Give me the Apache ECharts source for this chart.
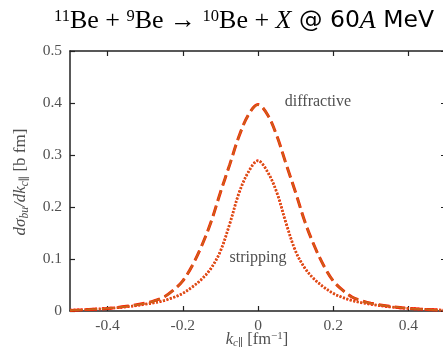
<!DOCTYPE html>
<html><head><meta charset="utf-8">
<script src="https://cdn.jsdelivr.net/npm/echarts@6/dist/echarts.min.js"></script>
<style>html,body{margin:0;padding:0;background:#fff}#c{width:443px;height:352px}</style>
</head><body><div id="c"></div>
<script>
const kValues = [-0.5,-0.45,-0.4,-0.35,-0.3,-0.275,-0.25,-0.225,-0.2,-0.175,-0.15,-0.125,-0.1,-0.075,-0.05,-0.025,0,
                 0.025,0.05,0.075,0.1,0.125,0.15,0.175,0.2,0.225,0.25,0.275,0.3,0.35,0.4,0.45,0.5];
const diffractive = [0.001,0.003,0.005,0.009,0.015,0.020,0.027,0.040,0.058,0.087,0.125,0.171,0.228,0.282,0.337,0.378,0.397,
                     0.378,0.337,0.282,0.228,0.171,0.125,0.087,0.058,0.040,0.027,0.020,0.015,0.009,0.005,0.003,0.001];
const stripping = [0.0015,0.003,0.005,0.008,0.013,0.016,0.020,0.026,0.034,0.046,0.061,0.082,0.115,0.168,0.228,0.268,0.289,
                   0.268,0.228,0.168,0.115,0.082,0.061,0.046,0.034,0.026,0.020,0.016,0.013,0.008,0.005,0.003,0.0015];
const xTickValues = [-0.4,-0.2,0,0.2,0.4];
const xTickLabels = ['-0.4','-0.2','0','0.2','0.4'];
const yTickLabels = ['0','0.1','0.2','0.3','0.4','0.5'];

const pairs = arr => kValues.map((k,i)=>[k,arr[i]]);
const serif = '"Liberation Serif", "DejaVu Serif", serif';
const sans = '"DejaVu Sans", "Noto Sans", sans-serif';
const RED = '#ff1a00', ORANGE = '#c8641a', GRAY = '#505050';

function curve(name, data, type, color, width, z){
  return {name, type:'line', data:pairs(data), showSymbol:false, smooth:0.35, z,
    lineStyle:{color, width, type}, silent:true};
}
const chart = echarts.init(document.getElementById('c'), null, {renderer:'canvas'});
const axisLine = {show:true, onZero:false, lineStyle:{color:'#222', width:1.5}};
const tick = {show:true, inside:true, length:5, lineStyle:{color:'#222', width:1.2}};
chart.setOption({
  animation:false,
  backgroundColor:'#fff',
  grid:{left:70, top:51, width:376, bottom:41, containLabel:false, outerBoundsMode:'none'},
  xAxis:[
    {type:'value', min:-0.5, max:0.5, position:'bottom', axisLine,
     axisTick:Object.assign({}, tick, {customValues:xTickValues}),
     axisLabel:{customValues:xTickValues, formatter:v=>xTickLabels[xTickValues.findIndex(t=>Math.abs(t-v)<1e-9)] ?? '',
       fontFamily:serif, fontSize:15.5, color:GRAY, margin:7},
     splitLine:{show:false}},
    {type:'value', min:-0.5, max:0.5, position:'top', axisLine,
     axisTick:Object.assign({}, tick, {customValues:xTickValues}),
     axisLabel:{show:false}, splitLine:{show:false}}
  ],
  yAxis:[
    {type:'value', min:0, max:0.5, interval:0.1, position:'left', axisLine, axisTick:tick,
     axisLabel:{formatter:v=>yTickLabels[Math.round(v*10)], fontFamily:serif, fontSize:15.5, color:GRAY, margin:8},
     splitLine:{show:false}},
    {type:'value', min:0, max:0.5, interval:0.1, position:'right', axisLine, axisTick:tick,
     axisLabel:{show:false}, splitLine:{show:false}}
  ],
  series:[
    curve('diffractive-a', diffractive, [11,5], RED, 3, 2),
    curve('diffractive-b', diffractive, [11,5], ORANGE, 1.8, 3),
    curve('stripping-a', stripping, [2,1.6], RED, 2.8, 2),
    curve('stripping-b', stripping, [2,1.6], ORANGE, 1.6, 3)
  ],
  graphic:[
    {type:'text', x:244, y:21, style:{
      text:'{sup|11}{n|Be + }{sup|9}{n|Be → }{sup|10}{n|Be + }{i|X}{s| @ 60}{i|A}{s| MeV}',
      align:'center', verticalAlign:'middle',
      rich:{
        n:{fontFamily:serif, fontSize:26, fill:'#000'},
        i:{fontFamily:serif, fontStyle:'italic', fontSize:26, fill:'#000'},
        s:{fontFamily:sans, fontSize:23.5, fill:'#000'},
        sup:{fontFamily:serif, fontSize:16.5, fill:'#000', verticalAlign:'top', padding:[0,0,9,0]}
      }}},
    {type:'text', x:318, y:102, style:{text:'diffractive', fontFamily:serif, fontSize:16, fill:GRAY, align:'center', verticalAlign:'middle'}},
    {type:'text', x:258, y:258, style:{text:'stripping', fontFamily:serif, fontSize:16, fill:GRAY, align:'center', verticalAlign:'middle'}},
    {type:'text', x:257, y:340, style:{
      text:'{i|k}{sub|c∥}{n| [fm}{sup|−1}{n|]}', align:'center', verticalAlign:'middle',
      rich:{
        i:{fontFamily:serif, fontStyle:'italic', fontSize:16.5, fill:GRAY},
        n:{fontFamily:serif, fontSize:16.5, fill:GRAY},
        sub:{fontFamily:serif, fontStyle:'italic', fontSize:11, fill:GRAY, verticalAlign:'bottom', padding:[7,0,0,0]},
        sup:{fontFamily:serif, fontSize:11, fill:GRAY, verticalAlign:'top', padding:[0,0,7,0]}
      }}},
    {type:'text', x:21, y:182, rotation:Math.PI/2, style:{
      text:'{i|dσ}{sub|bu}{i|/dk}{sub|c∥}{n| [b fm]}', align:'center', verticalAlign:'middle',
      rich:{
        i:{fontFamily:serif, fontStyle:'italic', fontSize:17, fill:GRAY},
        n:{fontFamily:serif, fontSize:17, fill:GRAY},
        sub:{fontFamily:serif, fontStyle:'italic', fontSize:11.5, fill:GRAY, verticalAlign:'bottom', padding:[7,0,0,0]}
      }}}
  ]
});
</script>
</body></html>
